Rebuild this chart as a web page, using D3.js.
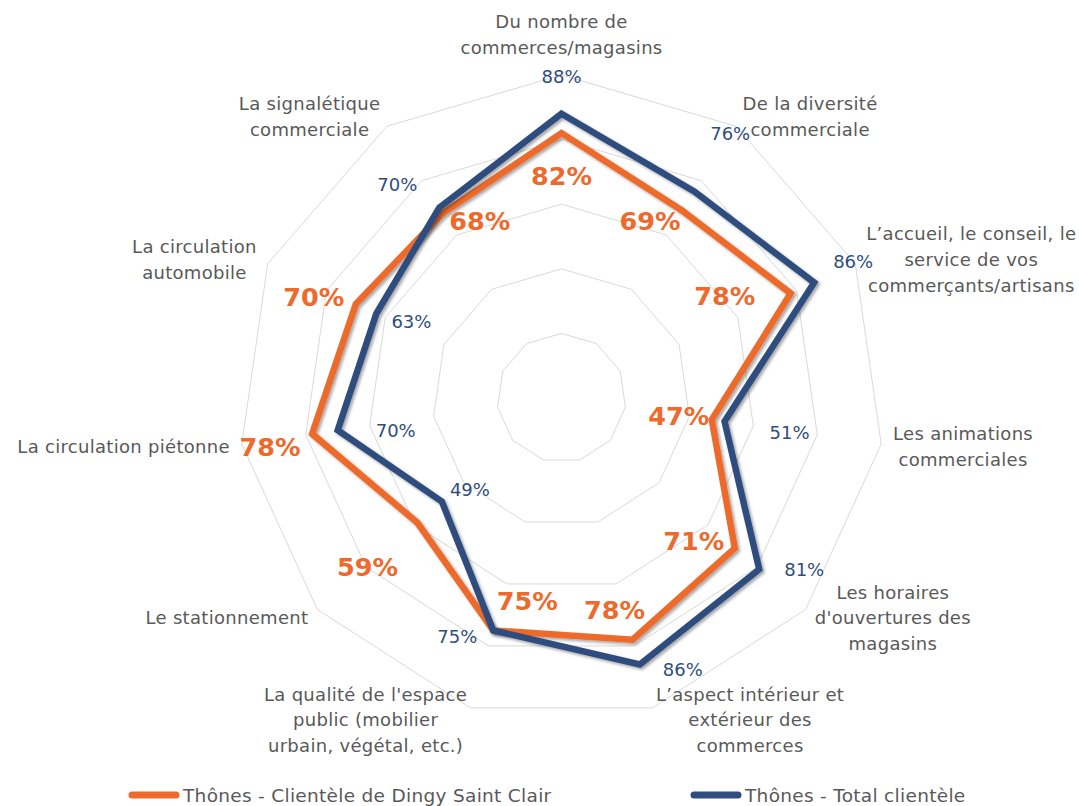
<!DOCTYPE html>
<html>
<head>
<meta charset="utf-8">
<script src="https://cdn.jsdelivr.net/npm/d3@7"></script>
<style>
  html, body { margin: 0; padding: 0; background: #fff; }
  svg text { font-family: "DejaVu Sans", "Open Sans", sans-serif; }
</style>
</head>
<body>
<div id="chart"></div>
<script>
// categories (axes), clockwise from top
const categories = [
  ["Du nombre de", "commerces/magasins"],
  ["De la diversité", "commerciale"],
  ["L\u2019accueil, le conseil, le", "service de vos", "commerçants/artisans"],
  ["Les animations", "commerciales"],
  ["Les horaires", "d'ouvertures des", "magasins"],
  ["L\u2019aspect intérieur et", "extérieur des", "commerces"],
  ["La qualité de l'espace", "public (mobilier", "urbain, végétal, etc.)"],
  ["Le stationnement"],
  ["La circulation piétonne"],
  ["La circulation", "automobile"],
  ["La signalétique", "commerciale"]
];

const seriesNames = ["Thônes - Clientèle de Dingy Saint Clair", "Thônes - Total clientèle"];
const dingyValues = [82, 69, 78, 47, 71, 78, 75, 59, 78, 70, 68];
const totalValues = [88, 76, 86, 51, 81, 86, 75, 49, 70, 63, 70];
const gridLevels = [20, 40, 60, 80, 100];

// label nudges (px) relative to each point
const dingyLabelShift = [[0,43],[-32,10],[-66,3],[-33,-4],[-41,-7],[-18,-30],[34,-29],[-50,44],[-42,13],[-42,-7],[37,8]];
const totalLabelShift = [[0,-37],[36,-58],[39,-21],[65,11],[45,0],[43,5],[-36,6],[28,-12],[58,0],[35,8],[-42,-23]];

const width = 1079, height = 806;
const cx = 561.5, cy = 398;
const orange = "#ED6A2C", navy = "#2F4D7E", gray = "#595959";

const svg = d3.select("#chart").append("svg")
  .attr("width", width)
  .attr("height", height);

const defs = svg.append("defs");
const f = defs.append("filter").attr("id", "shadow")
  .attr("x", "-10%").attr("y", "-10%").attr("width", "120%").attr("height", "120%");
f.append("feDropShadow")
  .attr("dx", 2).attr("dy", 2).attr("stdDeviation", 1.8)
  .attr("flood-color", "#000").attr("flood-opacity", 0.35);

const n = categories.length;
const angle = d3.scaleLinear().domain([0, n]).range([0, 2 * Math.PI]);
const r = d3.scaleLinear().domain([0, 100]).range([0, 323]);

const g = svg.append("g").attr("transform", `translate(${cx},${cy})`);

const pt = (i, v) => [Math.sin(angle(i)) * r(v), -Math.cos(angle(i)) * r(v)];

// grid rings
g.selectAll(".ring")
  .data(gridLevels)
  .join("polygon")
  .attr("class", "ring")
  .attr("points", lv => d3.range(n).map(i => pt(i, lv).join(",")).join(" "))
  .attr("fill", "none")
  .attr("stroke", "#d9d9d9")
  .attr("stroke-width", 1);

// series
const line = d3.lineRadial()
  .angle((d, i) => angle(i))
  .radius(d => r(d))
  .curve(d3.curveLinearClosed);

[[dingyValues, orange], [totalValues, navy]].forEach(([vals, col]) => {
  g.append("path")
    .datum(vals)
    .attr("d", line)
    .attr("fill", "none")
    .attr("stroke", col)
    .attr("stroke-width", 6.5)
    .attr("stroke-linejoin", "miter")
    .attr("filter", "url(#shadow)");
});

// value labels
g.selectAll(".lab-total")
  .data(totalValues)
  .join("text")
  .attr("class", "lab-total")
  .attr("x", (d, i) => pt(i, d)[0] + totalLabelShift[i][0])
  .attr("y", (d, i) => pt(i, d)[1] + totalLabelShift[i][1])
  .attr("text-anchor", "middle")
  .attr("dominant-baseline", "central")
  .attr("fill", navy)
  .attr("font-size", 18)
  .text(d => d + "%");

g.selectAll(".lab-dingy")
  .data(dingyValues)
  .join("text")
  .attr("class", "lab-dingy")
  .attr("x", (d, i) => pt(i, d)[0] + dingyLabelShift[i][0])
  .attr("y", (d, i) => pt(i, d)[1] + dingyLabelShift[i][1])
  .attr("text-anchor", "middle")
  .attr("dominant-baseline", "central")
  .attr("fill", orange)
  .attr("font-size", 25.5)
  .attr("font-weight", "bold")
  .text(d => d + "%");

// category labels
const lineH = 25.7;
categories.forEach((lines, i) => {
  const a = angle(i);
  const s = Math.sin(a), c = Math.cos(a);
  const ax = s * 335, ay = -c * 335;
  const t = g.append("text")
    .attr("fill", gray)
    .attr("font-size", 18)
    .attr("letter-spacing", 0.3);
  lines.forEach((ln, k) => {
    t.append("tspan")
      .attr("x", 0)
      .attr("dy", k === 0 ? 0 : lineH)
      .text(ln);
  });
  // center the lines inside the block, then place the block
  const bw = t.node().getBBox().width;
  t.attr("text-anchor", "middle");
  let bx;
  if (Math.abs(s) < 0.1) bx = ax;
  else if (s > 0) bx = ax + bw / 2;
  else bx = ax - bw / 2;
  const blockH = lines.length * lineH;
  let by;
  if (Math.abs(s) < 0.1) by = ay - 3 - blockH / 2;
  else by = ay;
  const firstY = by - blockH / 2 + lineH / 2;
  t.selectAll("tspan").attr("x", bx);
  t.attr("x", bx).attr("y", firstY).attr("dominant-baseline", "central");
  t.select("tspan").attr("y", firstY);
});

// legend
const legend = svg.append("g").attr("transform", "translate(0,795)");
[[seriesNames[0], orange, 128], [seriesNames[1], navy, 690]].forEach(([name, col, x0]) => {
  legend.append("line")
    .attr("x1", x0 + 4).attr("x2", x0 + 48)
    .attr("y1", 0).attr("y2", 0)
    .attr("stroke", col)
    .attr("stroke-width", 7)
    .attr("stroke-linecap", "round");
  legend.append("text")
    .attr("x", x0 + 55)
    .attr("y", 0)
    .attr("dominant-baseline", "central")
    .attr("fill", gray)
    .attr("font-size", 18.5)
    .attr("letter-spacing", 0.3)
    .text(name);
});
</script>
</body>
</html>
